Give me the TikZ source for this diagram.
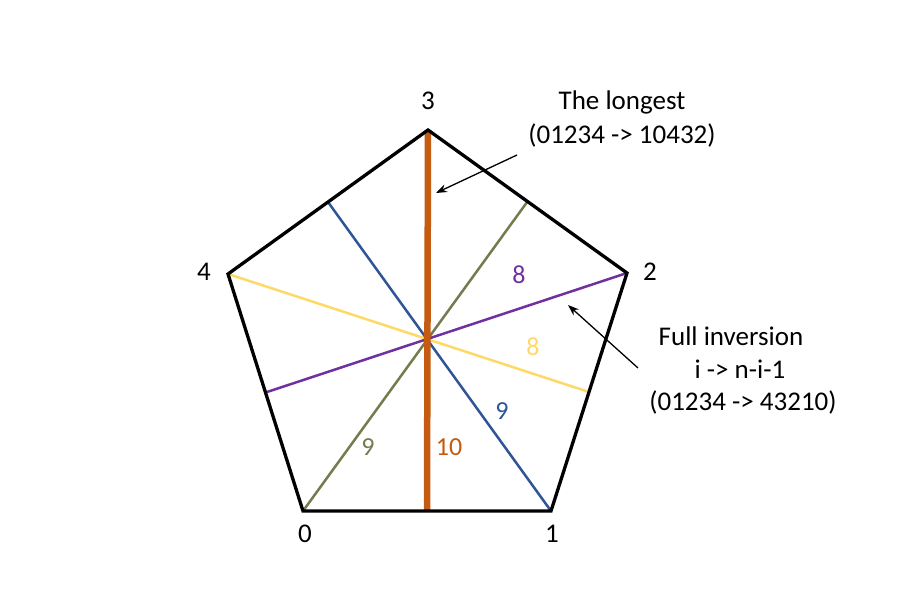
\documentclass[tikz,border=0pt]{standalone}
\usepackage{fontspec}
\setmainfont{Carlito}
\usetikzlibrary{arrows.meta,calc}
\definecolor{cOrange}{HTML}{C55A11}
\definecolor{cBlue}{HTML}{2F5597}
\definecolor{cGreen}{HTML}{767A4F}
\definecolor{cPurple}{HTML}{7030A0}
\definecolor{cYellow}{HTML}{FFD966}
\tikzset{
  lbl/.style={font=\fontsize{27}{32}\selectfont, inner sep=0pt, align=center},
  num/.style={font=\fontsize{26}{31}\selectfont, inner sep=0pt},
  chord/.style={line width=2.5pt},
  pointer/.style={line width=1.3pt, -{Stealth[length=11pt,width=8pt]}},
}
\begin{document}
\begin{tikzpicture}[x=1pt,y=-1pt]
\useasboundingbox (0,0) rectangle (919,604);
\coordinate (v3) at (428,130);
\coordinate (v2) at (627,273);
\coordinate (v1) at (551,511);
\coordinate (v0) at (303,511);
\coordinate (v4) at (228,274);
\coordinate (m34) at ($(v3)!0.5!(v4)$);
\coordinate (m23) at ($(v2)!0.5!(v3)$);
\coordinate (m40) at ($(v4)!0.5!(v0)$);
\coordinate (m12) at ($(v1)!0.5!(v2)$);
\coordinate (m01) at ($(v0)!0.5!(v1)$);
% chords
\draw[chord, cYellow] (v4) -- (m12);
\draw[chord, cGreen] (v0) -- (m23);
\draw[chord, cBlue] (v1) -- (m34);
\draw[chord, cPurple] (v2) -- (m40);
\draw[line width=6.5pt, cOrange] (v3) -- (m01);
% pentagon
\draw[line width=3.3pt, line join=miter] (v0) -- (v1) -- (v2) -- (v3) -- (v4) -- cycle;
% vertex labels
\node[lbl] (l3) at (428,101) {3};
\node[lbl] (l2) at (650,272) {2};
\node[lbl] (l1) at (552,534) {1};
\node[lbl] (l0) at (305,534) {0};
\node[lbl] (l4) at (204,272) {4};
% chord labels
\node[num, text=cPurple] (n8p) at (519,275) {8};
\node[num, text=cYellow] (n8y) at (533,347) {8};
\node[num, text=cBlue] (n9b) at (502,411) {9};
\node[num, text=cGreen] (n9g) at (368,447) {9};
\node[num, text=cOrange] (n10) at (449,447) {10};
% annotations
\node[lbl] (t1) at (622,102) {The longest};
\node[lbl] (t2) at (622,135) {(01234 -> 10432)};
\node[lbl] (f1) at (731,336) {Full inversion};
\node[lbl] (f2) at (740,369) {i -> n-i-1};
\node[lbl] (f3) at (743,402) {(01234 -> 43210)};
\coordinate (a1s) at (517,155);
\coordinate (a1e) at (436,193);
\coordinate (a2s) at (638,368);
\coordinate (a2e) at (568,305);
\draw[pointer] (a1s) -- (a1e);
\draw[pointer] (a2s) -- (a2e);
\end{tikzpicture}
\end{document}
